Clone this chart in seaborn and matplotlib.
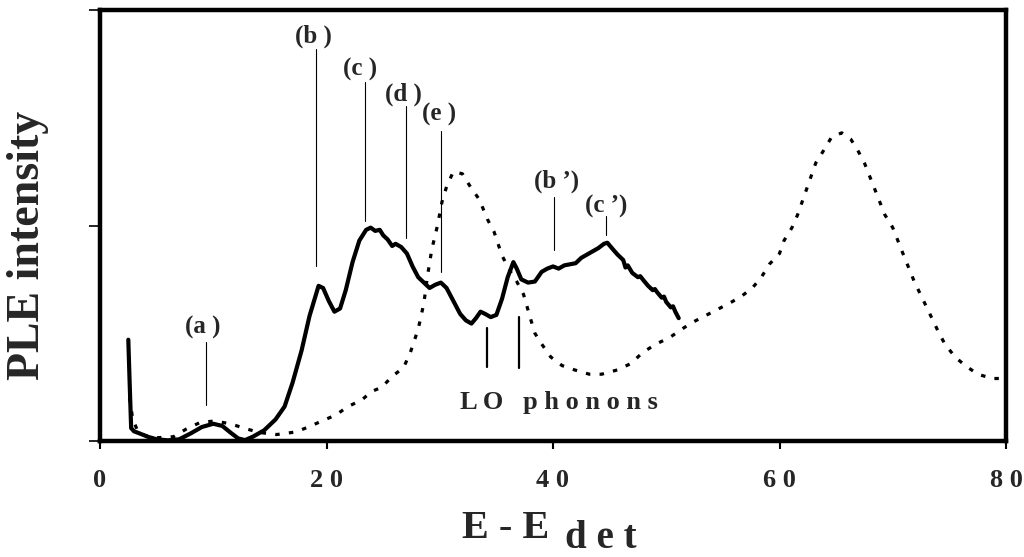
import numpy as np
import pandas as pd
import matplotlib
matplotlib.use("Agg")
import matplotlib.pyplot as plt
import seaborn as sns

# ---- data ----
solid_x = [2.5, 2.6, 2.75, 3.0, 3.5, 4.2, 5.0, 6.0, 7.0, 8.0, 9.0, 10.0, 10.8, 11.5, 12.2, 12.8,
           13.5, 14.5, 15.5, 16.3, 17.0, 17.8, 18.5, 19.3, 19.7, 20.2, 20.7, 21.2, 21.7, 22.3,
           22.9, 23.5, 23.9, 24.3, 24.7, 25.0, 25.4, 25.8, 26.1, 26.6, 27.1, 27.6, 28.1, 28.6,
           29.1, 29.6, 30.1, 30.6, 31.2, 31.8, 32.3, 32.8, 33.2, 33.6, 34.0, 34.5, 35.0, 35.5,
           36.0, 36.5, 36.8, 37.2, 37.8, 38.4, 39.0, 39.5, 40.0, 40.5, 41.0, 41.5, 42.0, 42.5,
           43.0, 43.5, 44.0, 44.5, 44.8, 45.2, 45.7, 46.2, 46.4, 46.6, 47.0, 47.5, 47.7, 48.0,
           48.4, 48.8, 49.0, 49.2, 49.6, 49.8, 50.0, 50.4, 50.6, 50.8, 51.1]
solid_y = [0.47, 0.30, 0.06, 0.045, 0.035, 0.02, 0.008, 0.003, 0.008, 0.035, 0.065, 0.08, 0.07,
           0.04, 0.012, 0.004, 0.02, 0.05, 0.10, 0.16, 0.27, 0.42, 0.58, 0.72, 0.71, 0.65, 0.60,
           0.615, 0.70, 0.83, 0.93, 0.98, 0.99, 0.975, 0.98, 0.955, 0.935, 0.905, 0.915, 0.90,
           0.87, 0.81, 0.76, 0.735, 0.71, 0.725, 0.735, 0.71, 0.65, 0.59, 0.56, 0.545, 0.57, 0.60,
           0.59, 0.575, 0.585, 0.66, 0.76, 0.83, 0.80, 0.75, 0.735, 0.74, 0.785, 0.80, 0.81, 0.80,
           0.815, 0.82, 0.825, 0.85, 0.865, 0.88, 0.895, 0.915, 0.92, 0.895, 0.865, 0.84, 0.805,
           0.815, 0.78, 0.76, 0.765, 0.745, 0.72, 0.70, 0.705, 0.69, 0.665, 0.67, 0.645, 0.62,
           0.625, 0.60, 0.57]

dot_x = [2.6, 2.9, 3.3, 4.0, 5.0, 6.5, 7.6, 8.8, 10.1, 11.5, 12.7, 14.0, 15.6, 17.3, 18.4, 19.6,
         20.8, 21.9, 23.1, 24.0, 24.9, 25.8, 26.8, 27.4, 28.1, 28.6, 28.9, 29.3, 29.8, 30.2, 30.6,
         31.2, 32.0, 32.7, 33.5, 34.2, 34.8, 35.5, 36.2, 36.8, 37.4, 38.0, 38.4, 39.0, 39.8, 40.8,
         41.9, 43.2, 44.3, 45.7, 46.9, 47.9, 49.1, 50.3, 51.4, 52.3, 53.4, 54.5, 55.6, 56.6, 57.6,
         58.4, 59.1, 60.0, 60.4, 61.1, 61.6, 62.4, 63.2, 63.8, 64.6, 65.5, 66.3, 66.9, 67.5, 68.4,
         69.3, 70.0, 70.9, 71.9, 73.0, 74.0, 74.6, 75.5, 76.4, 77.5, 78.8, 80.0]
dot_y = [0.20, 0.10, 0.05, 0.025, 0.015, 0.02, 0.055, 0.085, 0.093, 0.08, 0.06, 0.04, 0.03, 0.042,
         0.065, 0.093, 0.12, 0.16, 0.19, 0.23, 0.25, 0.30, 0.34, 0.41, 0.52, 0.64, 0.76, 0.89, 1.0,
         1.11, 1.18, 1.25, 1.24, 1.18, 1.12, 1.03, 0.97, 0.86, 0.79, 0.74, 0.68, 0.57, 0.50, 0.45,
         0.39, 0.35, 0.33, 0.31, 0.31, 0.33, 0.36, 0.41, 0.45, 0.48, 0.52, 0.55, 0.58, 0.61, 0.64,
         0.67, 0.71, 0.76, 0.82, 0.87, 0.93, 0.99, 1.05, 1.17, 1.29, 1.34, 1.41, 1.43, 1.40, 1.35,
         1.29, 1.17, 1.05, 0.99, 0.87, 0.74, 0.62, 0.51, 0.45, 0.39, 0.35, 0.31, 0.29, 0.29]

xtick_vals = [0, 20, 40, 60, 80]
xtick_labels = ["0", "2 0", "4 0", "6 0", "8 0"]
ytick_vals = [0, 1, 2]

ann_labels = ["(a )", "(b )", "(c )", "(d )", "(e )", "(b \u2019)", "(c \u2019)"]
ann_text_x = [9.1, 18.85, 23.0, 26.8, 29.9, 40.35, 44.7]
ann_text_y = [0.526, 1.88, 1.726, 1.61, 1.516, 1.205, 1.088]
ann_line_x = [9.4, 19.1, 23.4, 27.0, 30.1, 40.1, 44.7]
ann_line_top = [0.46, 1.82, 1.665, 1.553, 1.437, 1.13, 1.042]
ann_line_bot = [0.167, 0.81, 1.019, 0.944, 0.786, 0.888, 0.958]

lo_x = [34.2, 37.0]
lo_top = [0.526, 0.577]
lo_bot = [0.344, 0.340]

# ---- plot ----
sns.set_theme(style="white")
plt.rcParams['font.family'] = ['Liberation Serif', 'DejaVu Serif']
plt.rcParams['font.weight'] = 'bold'

fig = plt.figure(figsize=(10.24, 5.57), dpi=100)
ax = fig.add_axes([100 / 1024, 1 - 441 / 557, 906 / 1024, 431 / 557])

df_s = pd.DataFrame({"x": solid_x, "y": solid_y})
df_d = pd.DataFrame({"x": dot_x, "y": dot_y})

sns.lineplot(data=df_d, x="x", y="y", ax=ax, color="black", linewidth=2.3,
             estimator=None, sort=False)
ax.lines[-1].set_dashes((1.4, 2.9))
ax.lines[-1].set_dash_capstyle("butt")
sns.lineplot(data=df_s, x="x", y="y", ax=ax, color="black", linewidth=3.0,
             estimator=None, sort=False)

for lab, tx, ty, lx, lt, lb in zip(ann_labels, ann_text_x, ann_text_y, ann_line_x,
                                   ann_line_top, ann_line_bot):
    ax.text(tx, ty, lab, ha="center", va="center", fontsize=18, fontweight="bold")
    ax.plot([lx, lx], [lb, lt], color="black", linewidth=0.8)

for lx, lt, lb in zip(lo_x, lo_top, lo_bot):
    ax.plot([lx, lx], [lb, lt], color="black", linewidth=1.6)
ax.text(40.5, 0.18, "L O   p h o n o n s", ha="center", va="center", fontsize=19,
        fontweight="bold")

ax.set_xlim(0, 80)
ax.set_ylim(0, 2)
ax.set_xticks(xtick_vals)
ax.set_xticklabels(xtick_labels, fontsize=19, fontweight="bold")
ax.set_yticks(ytick_vals)
ax.set_yticklabels([])
ax.set_xlabel("")
ax.set_ylabel("")
ax.tick_params(axis="x", direction="out", length=6, width=1.5, pad=14, bottom=True, color="black")
ax.tick_params(axis="y", direction="out", length=8, width=1.2, left=True, color="black")
for s in ax.spines.values():
    s.set_linewidth(3.2)
    s.set_color("black")
    s.set_visible(True)

fig.text(28 / 1024, 1 - 245 / 557, "PLE intensity", rotation=90, ha="center", va="center",
         fontsize=33, fontweight="bold")
fig.text(506 / 1024, 1 - 538 / 557, "E - E", ha="center", va="baseline", fontsize=29,
         fontweight="bold")
fig.text(565 / 1024, 1 - 548 / 557, "d e t", ha="left", va="baseline", fontsize=28,
         fontweight="bold")

fig.savefig("out.png", dpi=100)
